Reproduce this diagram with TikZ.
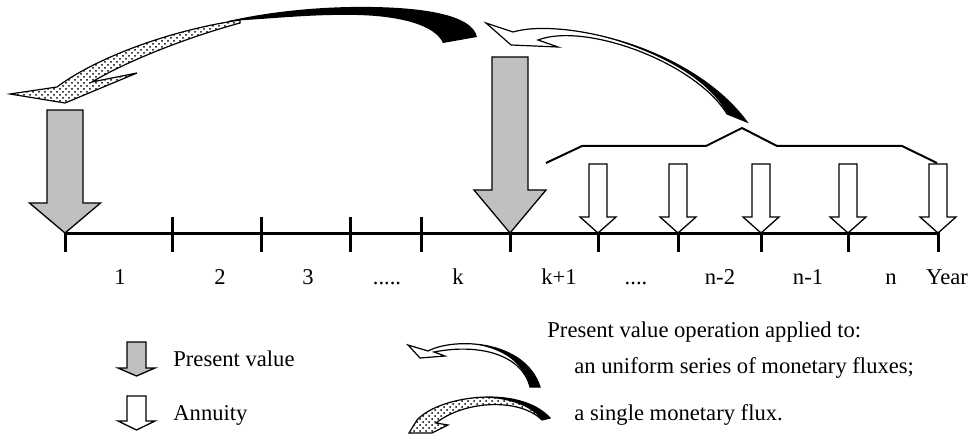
\documentclass[tikz,border=0pt]{standalone}
\usepackage{fontspec}
\setmainfont{Liberation Serif}
\usetikzlibrary{patterns}
\definecolor{pvgray}{RGB}{192,192,192}
\tikzset{
  pics/blockarrow/.style n args={4}{code={
    \filldraw[pic actions] (0,0) -- (-#4,-#2) -- (-#3,-#2) -- (-#3,-#1) -- (#3,-#1) -- (#3,-#2) -- (#4,-#2) -- cycle;}},
  pv/.style={fill=pvgray, line width=0.65pt},
  ann/.style={fill=white, line width=0.65pt},
  axis/.style={line width=1.5pt},
  bracket/.style={line width=1pt},
  lbl/.style={font=\fontsize{11.3}{13.5}\selectfont, inner sep=0pt},
  ribbon/.style={draw, fill=white, line width=0.6pt},
  dothead/.style={draw, line width=0.6pt, preaction={fill=white}, pattern=crosshatch dots},
}

\begin{document}
\begin{tikzpicture}[x=0.5pt, y=-0.5pt]
\useasboundingbox (0,0) rectangle (973,443);

\coordinate (t0) at (65,233);
\coordinate (tn) at (938,233);
\draw[axis] (t0) -- (tn);
\draw[axis] (65,217) -- (65,252);
\draw[axis] (172,217) -- (172,252);
\draw[axis] (261,217) -- (261,252);
\draw[axis] (350,217) -- (350,252);
\draw[axis] (421,217) -- (421,252);
\draw[axis] (510,217) -- (510,252);
\draw[axis] (598,217) -- (598,252);
\draw[axis] (678,217) -- (678,252);
\draw[axis] (761,217) -- (761,252);
\draw[axis] (848,217) -- (848,252);
\draw[axis] (938,217) -- (938,252);

\pic[pv] at (65,233) {blockarrow={123}{30}{18}{35.5}};
\pic[pv] at (510,233) {blockarrow={176}{43}{18}{36}};
\pic[ann] at (598,233) {blockarrow={69}{16}{9}{18}};
\pic[ann] at (678,233) {blockarrow={69}{16}{9}{18}};
\pic[ann] at (761,233) {blockarrow={69}{16}{9}{18}};
\pic[ann] at (848,233) {blockarrow={69}{16}{9}{18}};
\pic[ann] at (938,233) {blockarrow={69}{16}{9}{18}};

\draw[bracket] (546,163) -- (582,146) -- (706,146) -- (742,128) -- (777,146) -- (902,146) -- (937,163);

\path[dothead] (240,20) .. controls (160,32) and (90,62) .. (57,87) -- (10,94) -- (65,103) -- (137,73) -- (92,82) .. controls (125,62) and (185,38) .. (240,23) -- cycle;
\fill (477,37) .. controls (472,14) and (420,6) .. (350,7) .. controls (300,8) and (260,14) .. (228,21) .. controls (270,19) and (310,14) .. (357,15) .. controls (400,16) and (435,25) .. (443,43) -- cycle;

\path[ribbon] (486,23) -- (513,32) .. controls (560,18) and (690,45) .. (747,122) -- (727,114) .. controls (695,62) and (585,22) .. (538,40) -- (558,47) -- (511,45) -- cycle;
\fill (599.3,35.5) .. controls (652.3,47.6) and (712.8,75.8) .. (747,122) -- (727,114) .. controls (710,80) and (660,52) .. (599.3,35.5) -- cycle;

\node[lbl, anchor=base] (y1) at (120,284.5) {1};
\node[lbl, anchor=base] (y2) at (220,284.5) {2};
\node[lbl, anchor=base] (y3) at (308,284.5) {3};
\node[lbl, anchor=base] (ydots) at (387,284.5) {.....};
\node[lbl, anchor=base] (yk) at (458,284.5) {k};
\node[lbl, anchor=base] (yk1) at (559,284.5) {k+1};
\node[lbl, anchor=base] (ydots2) at (636,284.5) {....};
\node[lbl, anchor=base] (yn2) at (720,284.5) {n-2};
\node[lbl, anchor=base] (yn1) at (808,284.5) {n-1};
\node[lbl, anchor=base] (yn) at (891,284.5) {n};
\node[lbl, anchor=base] (year) at (947,284.5) {Year};

\pic[pv] at (136.5,376) {blockarrow={34}{8}{9.5}{18.5}};
\pic[ann] at (136.5,430) {blockarrow={34}{9}{9.5}{18.5}};
\node[lbl, anchor=base west] (pvtxt) at (173,366) {Present value};
\node[lbl, anchor=base west] (anntxt) at (173,420) {Annuity};

\path[ribbon] (408,345) -- (428,351) .. controls (455,337) and (525,340) .. (540,387) -- (530,387) .. controls (522,355) and (480,343) .. (434,352) -- (445,356) -- (420,358) -- cycle;
\fill (474.8,344.1) .. controls (502.2,346.4) and (531,358.8) .. (540,387) -- (530,387) .. controls (522,362) and (505,350) .. (474.8,344.1) -- cycle;

\path[dothead] (409,433) -- (417,420) .. controls (440,395) and (520,385) .. (550,418) -- (542,420) .. controls (520,398) and (465,400) .. (436,423) -- (448,425) -- (432,433) -- cycle;
\fill (480.9,397.25) .. controls (507.5,395.75) and (535,401.5) .. (550,418) -- (542,420) .. controls (530,404) and (505,398) .. (480.9,397.25) -- cycle;

\node[lbl, anchor=base west] (optxt) at (547,337) {Present value operation applied to:};
\node[lbl, anchor=base west] (unitxt) at (574,373) {an uniform series of monetary fluxes;};
\node[lbl, anchor=base west] (singtxt) at (574,420) {a single monetary flux.};
\end{tikzpicture}
\end{document}
